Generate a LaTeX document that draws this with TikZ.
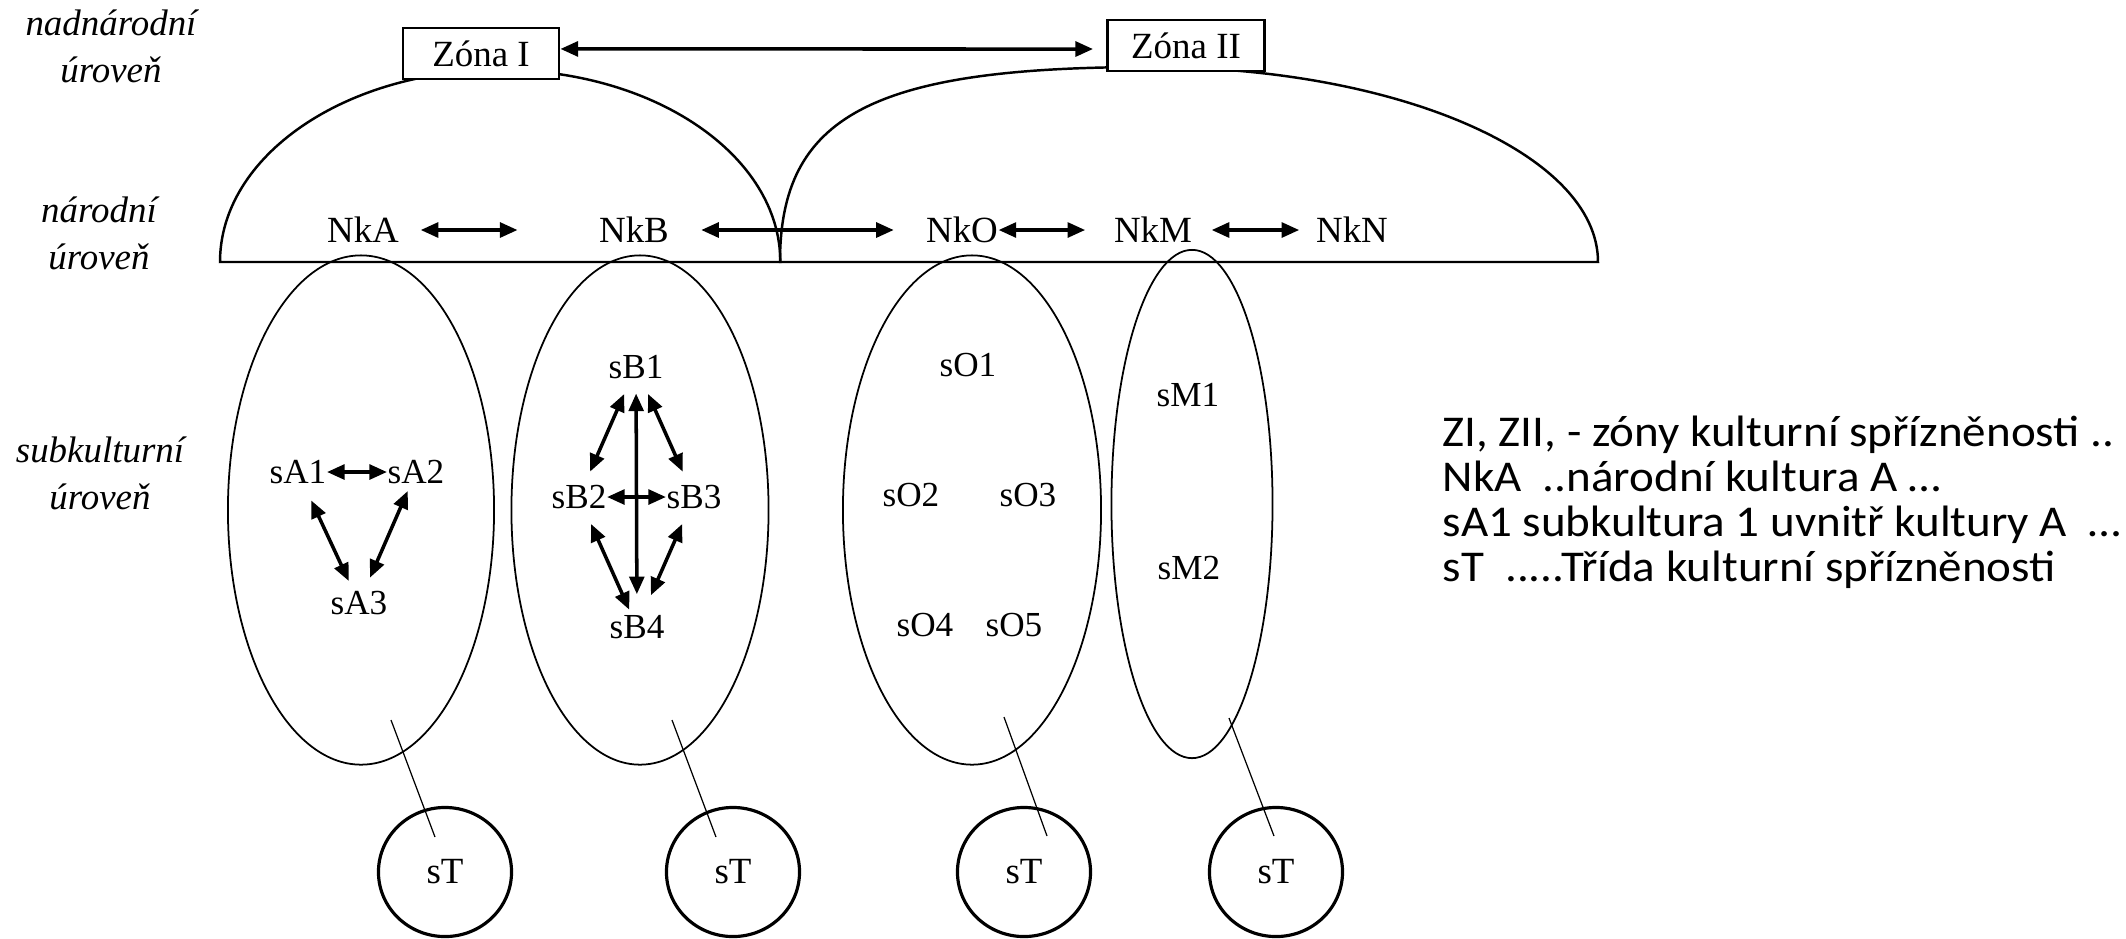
\documentclass[tikz,border=0pt]{standalone}
\usepackage{graphicx}
\usepackage{fontspec}
\setmainfont{Liberation Serif}
\newfontfamily\legendfont{Carlito}
\usetikzlibrary{arrows.meta,shapes.geometric,positioning}

\begin{document}
\begin{tikzpicture}[x=0.01cm,y=-0.01cm,
    levelname/.style={font=\fontsize{10.5}{13.4}\selectfont\itshape,align=center,inner sep=0pt},
    zone/.style={draw,fill=white,line width=0.8pt,inner sep=0pt,minimum width=1.56cm,
                 minimum height=0.51cm,font=\fontsize{10.5}{12}\selectfont},
    nat/.style={inner sep=0pt,font=\fontsize{10.5}{12}\selectfont},
    sub/.style={inner sep=0pt,font=\fontsize{10}{12}\selectfont},
    culture/.style={ellipse,draw,line width=0.5pt,inner sep=0pt},
    class/.style={ellipse,draw,line width=0.9pt,inner sep=0pt,minimum width=1.33cm,
                  minimum height=1.29cm,font=\fontsize{10.5}{12}\selectfont},
    link/.style={<->,>={Triangle[length=5pt,width=4.2pt]},line width=1pt},
    tie/.style={line width=0.35pt}]
  \useasboundingbox (0,0) rectangle (2126,938);

  %levels%
  \node[levelname] (lev1) at (111,46) {nadnárodní\\úroveň};
  \node[levelname] (lev2) at (99,233) {národní\\úroveň};
  \node[levelname] (lev3) at (100,473) {subkulturní\\úroveň};

  %zones%
  \draw[line width=0.7pt] (220,262) arc[start angle=180,end angle=0,x radius=2.8cm,y radius=1.92cm] -- cycle;
  \draw[line width=0.7pt] (780,262) .. controls (780,116) and (872,67) .. (1150,67)
    .. controls (1397,67) and (1598,154) .. (1598,262) -- cycle;
  \node[zone] (Z1) at (481,53.5) {Zóna I};
  \node[zone,minimum width=1.57cm] (Z2) at (1186,45.5) {Zóna II};
  \draw[link,shorten >=3.7pt] ([yshift=1.3pt]Z1.east) -- ([yshift=-1pt]Z2.west);

  %national cultures%
  \node[nat] (NkA) at (363,230) {NkA};
  \node[nat] (NkB) at (634,230) {NkB};
  \node[nat] (NkO) at (962,230) {NkO};
  \node[nat] (NkM) at (1153,230) {NkM};
  \node[nat] (NkN) at (1352,230) {NkN};
  \path[link]
    (NkA) edge[shorten <=6pt,shorten >=23pt] (NkB)
    (NkB) edge[shorten <=9pt,shorten >=9pt] (NkO)
    (NkO) edge[shorten >=8pt] (NkM)
    (NkM) edge[shorten <=5.4pt,shorten >=4.6pt] (NkN);

  %subcultures%
  \node[culture,minimum width=2.66cm,minimum height=5.09cm] (cultA) at (361,510) {};
  \node[culture,minimum width=2.57cm,minimum height=5.09cm] (cultB) at (640,510) {};
  \node[culture,minimum width=2.58cm,minimum height=5.09cm] (cultO) at (972,510) {};
  \node[culture,minimum width=1.61cm,minimum height=5.08cm] (cultM) at (1192,504) {};

  \node[sub] (sA1) at (298,472) {sA1};
  \node[sub] (sA2) at (416,472) {sA2};
  \node[sub] (sA3) at (359,603) {sA3};
  \path[link]
    (sA1) edge (sA2)
          edge[shorten <=5pt,shorten >=3pt] (sA3)
    (sA2) edge[shorten <=2pt,shorten >=4pt] (sA3);

  \node[sub] (sB1) at (636,367) {sB1};
  \node[sub] (sB2) at (579,497) {sB2};
  \node[sub] (sB3) at (694,497) {sB3};
  \node[sub] (sB4) at (637,627) {sB4};
  \path[link]
    (sB1) edge[shorten <=4.5pt,shorten >=4pt] (sB2)
          edge[shorten <=4.5pt,shorten >=4pt] (sB3)
          edge[shorten <=4pt,shorten >=5.8pt] (sB4)
    (sB2) edge (sB3)
          edge[shorten <=4.5pt,shorten >=1.5pt] (sB4)
    (sB3) edge[shorten <=4.5pt,shorten >=6pt] (sB4);

  \node[sub] (sO1) at (968,365) {sO1};
  \node[sub] (sO2) at (911,495) {sO2};
  \node[sub] (sO3) at (1028,495) {sO3};
  \node[sub] (sO4) at (925,625) {sO4};
  \node[sub] (sO5) at (1014,625) {sO5};

  \node[sub] (sM1) at (1188,395) {sM1};
  \node[sub] (sM2) at (1189,568) {sM2};

  %classes%
  \node[class] (TA) at (445,872) {sT};
  \node[class] (TB) at (733,872) {sT};
  \node[class] (TO) at (1024,872) {sT};
  \node[class] (TM) at (1276,872) {sT};

  \coordinate (a1) at (391,720); \coordinate (a2) at (435,837);
  \coordinate (b1) at (672,720); \coordinate (b2) at (716,837);
  \coordinate (o1) at (1004,717); \coordinate (o2) at (1047,836);
  \coordinate (m1) at (1229,718); \coordinate (m2) at (1274,836);
  \draw[tie] (a1) -- (a2);
  \draw[tie] (b1) -- (b2);
  \draw[tie] (o1) -- (o2);
  \draw[tie] (m1) -- (m2);

  %legend, a little wider than the font%
  \node[anchor=west,inner sep=0pt,font=\legendfont\fontsize{12.5}{12.8}\selectfont] (key) at (1442,505)
    {\scalebox{1.07}[1]{\begin{tabular}{@{}l@{}}
     ZI, ZII, - zóny kulturní spřízněnosti ..\\
     NkA\ \ ..národní kultura A …\\
     sA1 subkultura 1 uvnitř kultury A \ …\\
     sT\ \ .....Třída kulturní spřízněnosti
     \end{tabular}}};
\end{tikzpicture}
\end{document}
